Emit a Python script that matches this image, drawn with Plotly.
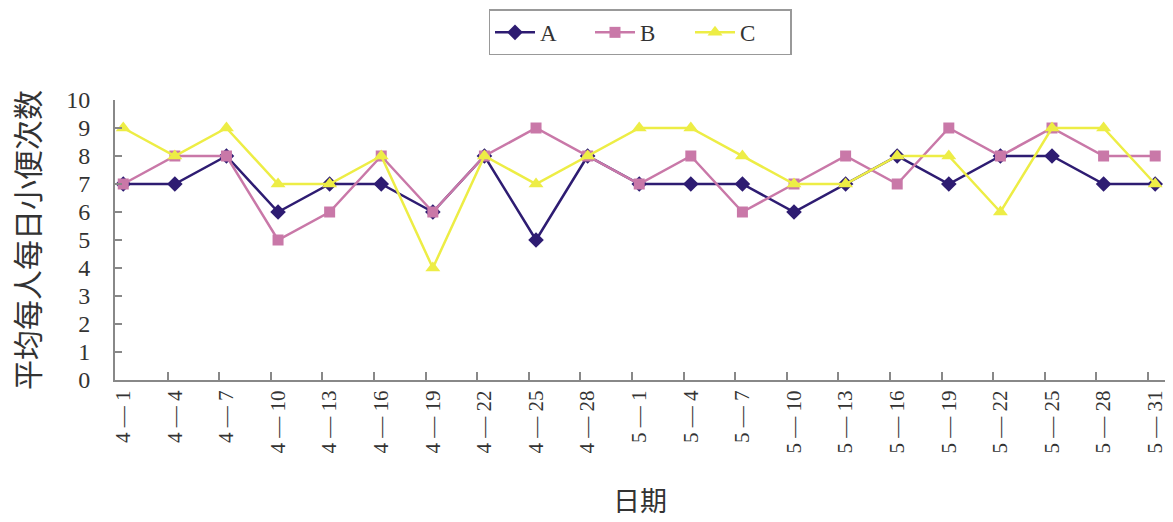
import plotly.graph_objects as go

dates = ["4-1","4-4","4-7","4-10","4-13","4-16","4-19","4-22","4-25","4-28",
         "5-1","5-4","5-7","5-10","5-13","5-16","5-19","5-22","5-25","5-28","5-31"]
series_a = [7,7,8,6,7,7,6,8,5,8,7,7,7,6,7,8,7,8,8,7,7]
series_b = [7,8,8,5,6,8,6,8,9,8,7,8,6,7,8,7,9,8,9,8,8]
series_c = [9,8,9,7,7,8,4,8,7,8,9,9,8,7,7,8,8,6,9,9,7]
y_ticks = list(range(0, 11))

x = list(range(len(dates)))
labels = [d.replace("-", " — ") for d in dates]
minor_ticks = [i + 0.86 for i in range(len(dates) - 1)]

fig = go.Figure()
fig.add_trace(go.Scatter(x=x, y=series_a, name="A", mode="lines+markers",
                         line=dict(color="#2E1C72", width=2.5),
                         marker=dict(symbol="diamond", size=12, color="#2E1C72")))
fig.add_trace(go.Scatter(x=x, y=series_b, name="B", mode="lines+markers",
                         line=dict(color="#C978A8", width=2.5),
                         marker=dict(symbol="square", size=11, color="#C978A8")))
fig.add_trace(go.Scatter(x=x, y=series_c, name="C", mode="lines+markers",
                         line=dict(color="#EDED45", width=2.5),
                         marker=dict(symbol="triangle-up", size=13, color="#EDED45")))

fig.update_layout(
    width=1173, height=522,
    margin=dict(l=115, r=6, t=100, b=142),
    paper_bgcolor="white", plot_bgcolor="white",
    font=dict(family="Liberation Serif", color="#333333"),
    showlegend=True,
    legend=dict(orientation="h", x=0.5, xanchor="center", xref="paper",
                y=0.982, yref="container", yanchor="top",
                bordercolor="#999999", borderwidth=1.5,
                font=dict(family="Liberation Serif", size=23, color="#333333"),
                entrywidth=45, itemwidth=40),
    xaxis=dict(range=[-0.16, 20.19], tickvals=x, ticktext=labels,
               tickangle=-90, ticks="", showgrid=False, zeroline=False,
               showline=True, linecolor="#888888", linewidth=2,
               tickfont=dict(family="Liberation Serif", size=21, color="#333333"),
               minor=dict(tickvals=minor_ticks, ticks="inside", ticklen=8,
                          tickcolor="#888888", tickwidth=2, showgrid=False),
               title=dict(text="日期", standoff=40,
                          font=dict(family="Noto Sans CJK SC", size=27, color="#333333"))),
    yaxis=dict(range=[0, 10], tickvals=y_ticks, ticks="inside", ticklen=7,
               tickcolor="#888888", tickwidth=2,
               showgrid=False, zeroline=False,
               showline=True, linecolor="#888888", linewidth=2,
               ticklabelstandoff=18,
               tickfont=dict(family="Liberation Serif", size=24, color="#333333"),
               title=dict(text="平均每人每日小便次数", standoff=18,
                          font=dict(family="Noto Sans CJK SC", size=30, color="#333333"))),
)

fig.write_html("out.html")
